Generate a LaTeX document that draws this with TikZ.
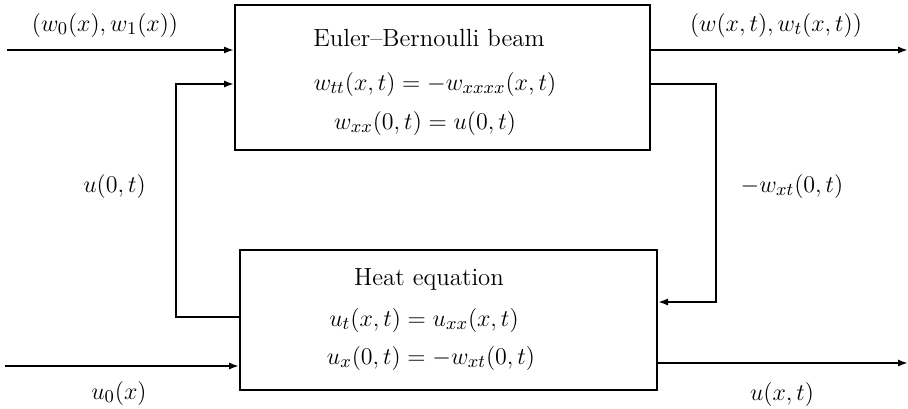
\documentclass[tikz,border=0pt]{standalone}
\usetikzlibrary{arrows.meta}
\begin{document}
\begin{tikzpicture}[x=0.5pt,y=-0.5pt,line width=1pt,
  >={Latex[length=5pt,width=3.6pt]},
  blk/.style={draw,inner sep=0pt},
  txt/.style={inner sep=0pt,anchor=base,font=\fontsize{12.4pt}{15pt}\selectfont}]
\useasboundingbox (0,0) rectangle (908,408);
% blocks
\node[blk,minimum width=207.5pt,minimum height=72.5pt] (beam) at (442.5,77.5) {};
\node[blk,minimum width=208.5pt,minimum height=70pt] (heat) at (448.5,320) {};
% texts in blocks
\node[txt] (b1) at (429,46) {Euler--Bernoulli beam};
\node[txt] (b2) at (435,90) {$w_{tt}(x,t)=-w_{xxxx}(x,t)$};
\node[txt] (b3) at (425,129) {$w_{xx}(0,t)=u(0,t)$};
\node[txt] (h1) at (429,285) {Heat equation};
\node[txt] (h2) at (424,326) {$u_t(x,t)=u_{xx}(x,t)$};
\node[txt] (h3) at (431,364) {$u_x(0,t)=-w_{xt}(0,t)$};
% outer labels
\node[txt] (l1) at (105,31) {$(w_0(x),w_1(x))$};
\node[txt] (l2) at (776,31) {$(w(x,t),w_t(x,t))$};
\node[txt] (l3) at (114.5,192) {$u(0,t)$};
\node[txt] (l4) at (792,192) {$-w_{xt}(0,t)$};
\node[txt] (l5) at (119,399) {$u_0(x)$};
\node[txt] (l6) at (782,400) {$u(x,t)$};
% coordinates
\coordinate (in1) at (7,50);
\coordinate (out1) at (908,50);
\coordinate (fbA) at (176,317);
\coordinate (fbB) at (176,84);
\coordinate (fbC) at (716,84);
\coordinate (fbD) at (716,302);
\coordinate (in2) at (5,366);
\coordinate (out2) at (908,363);
% connectors
\draw[->] (in1) -- (in1 -| beam.west);
\draw[->] (in1 -| beam.east) -- (out1);
\draw[->] (fbA -| heat.west) -- (fbA) -- (fbB) -- (fbB -| beam.west);
\draw[->] (fbC -| beam.east) -- (fbC) -- (fbD) -- (fbD -| heat.east);
\draw[->] (in2) -- (in2 -| heat.west);
\draw[->] (out2 -| heat.east) -- (out2);
\end{tikzpicture}
\end{document}
